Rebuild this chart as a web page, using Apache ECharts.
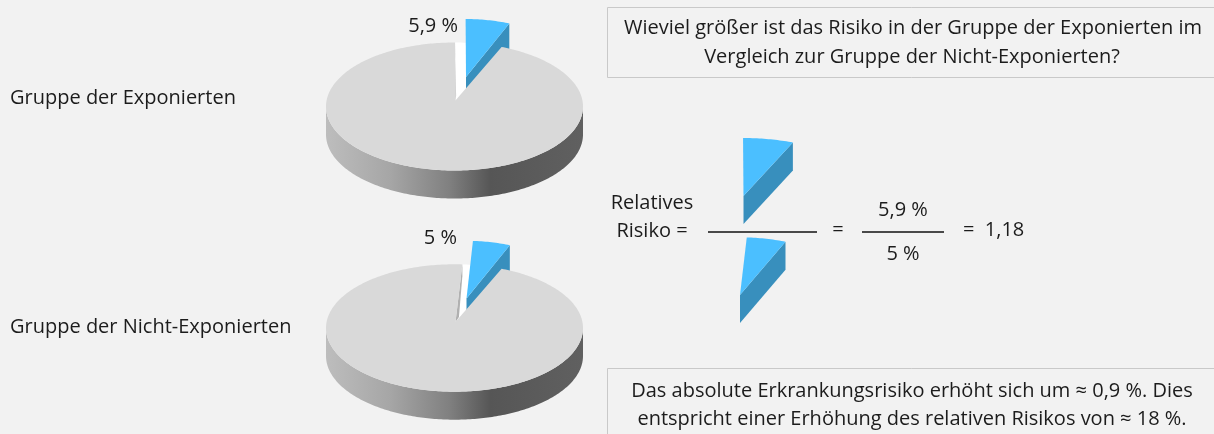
<!DOCTYPE html>
<html><head><meta charset="utf-8">
<style>html,body{margin:0;padding:0;background:#f2f2f2}#c{width:1214px;height:434px}</style>
<script src="https://cdn.jsdelivr.net/npm/echarts@6/dist/echarts.min.js"></script></head>
<body><div id="c"></div>
<script>
const groupNames = ['Gruppe der Exponierten', 'Gruppe der Nicht-Exponierten'];
const riskPercent = [5.9, 5];
const riskLabels = ['5,9 %', '5 %'];
const questionLines = ['Wieviel größer ist das Risiko in der Gruppe der Exponierten im', 'Vergleich zur Gruppe der Nicht-Exponierten?'];
const answerLines = ['Das absolute Erkrankungsrisiko erhöht sich um ≈ 0,9 %. Dies', 'entspricht einer Erhöhung des relativen Risikos von ≈ 18 %.'];
const formulaLeft = ['Relatives', 'Risiko ='];
const formulaResult = '=  1,18';

const FONT = '"Open Sans", sans-serif';
const FS = 20;
const INK = '#1c1c1c';
const pies = [
  {cx: 454.5, cy: 106.5, rx: 128.5, ry: 64, depth: 28, ox: 10.5, oy: -23.5, labelX: 458, labelY: 26, textY: 98},
  {cx: 454.5, cy: 328, rx: 128.5, ry: 63.7, depth: 28, ox: 11, oy: -23.5, labelX: 457, labelY: 238, textY: 327}
];
const formulaPlace = [{dx: 277.5, dy: 119, sx: 1.14}, {dx: 273.5, dy: -3.5, sx: 1.05}];
const END_ANGLE = 21.5;
const WEDGE_SHRINK = 0.94;

function rim(p, t, dy) {
  const r = t * Math.PI / 180;
  return [p.cx + p.rx * Math.sin(r), p.cy - p.ry * Math.cos(r) + (dy || 0)];
}
function arc(p, a, b, dy) {
  const out = [];
  const n = Math.max(2, Math.ceil(Math.abs(b - a)));
  for (let i = 0; i <= n; i++) out.push(rim(p, a + (b - a) * i / n, dy));
  return out;
}
function poly(points, style) {
  return {type: 'polygon', shape: {points}, style};
}
function wedge(p, pct, tf) {
  const a = END_ANGLE - pct * 3.6, b = END_ANGLE;
  const apex = [p.cx + 1 + p.ox, p.cy - 6 + p.oy];
  const top = arc(p, a, b).map(q => [apex[0] + (q[0] + p.ox - apex[0]) * WEDGE_SHRINK, q[1] + p.oy]);
  const f = tf || (q => q);
  const p2 = top[top.length - 1];
  return [
    poly([apex, p2, [p2[0], p2[1] + p.depth], [apex[0], apex[1] + p.depth]].map(f), {fill: '#388fbd'}),
    poly([apex].concat(top).map(f), {fill: '#4bbfff'})
  ];
}
function renderPie(params, api) {
  const i = params.dataIndex;
  const p = pies[i];
  const pct = api.value(1);
  const a = END_ANGLE - pct * 3.6, b = END_ANGLE;
  const apex = [p.cx + 1, p.cy - 6];
  const wallGrad = new echarts.graphic.LinearGradient(0, 0, 1, 0, [
    {offset: 0, color: '#bdbdbd'}, {offset: 0.25, color: '#a6a6a6'},
    {offset: 0.48, color: '#808080'}, {offset: 0.64, color: '#565656'}, {offset: 1, color: '#606060'}
  ]);
  const children = [];
  // front wall
  children.push(poly(arc(p, 270, 90).concat(arc(p, 90, 270, p.depth)), {fill: wallGrad}));
  // hole of the cut slice
  children.push(poly([apex].concat(arc(p, a, b)), {fill: '#ffffff'}));
  // exploded slice
  wedge(p, pct).forEach(c => children.push(c));
  // inner cut wall of the grey part
  const P = rim(p, a);
  const w = Math.max(0.6, (P[0] - apex[0]) * 0.5);
  children.push(poly([P, apex, [apex[0] + w, apex[1] - 5], [P[0], P[1] + 12]], {fill: '#b0b0b0'}));
  // grey top
  children.push(poly([apex].concat(arc(p, b, a + 360)), {fill: '#d9d9d9'}));
  return {type: 'group', children};
}
function renderFormulaWedge(params, api) {
  const i = params.dataIndex;
  const p = pies[i], m = formulaPlace[i];
  const pivotX = p.cx + 1 + p.ox;
  const tf = q => [pivotX + (q[0] - pivotX) * m.sx + m.dx, q[1] + m.dy];
  return {type: 'group', children: wedge(p, api.value(1), tf)};
}
function txt(text, x, y, align) {
  return {type: 'text', x, y, silent: true, style: {text, fill: INK, font: FS + 'px ' + FONT, textAlign: align || 'center', textVerticalAlign: 'middle'}};
}
function box(y, h) {
  return {type: 'rect', shape: {x: 607.5, y: y + 0.5, width: 640, height: h}, silent: true, z: -1,
    style: {fill: '#f2f2f2', stroke: '#c9c9c9', lineWidth: 1}};
}
function rule(x1, x2, y) {
  return {type: 'line', shape: {x1, y1: y, x2, y2: y}, silent: true, style: {stroke: '#111', lineWidth: 1.5}};
}
const elements = [
  box(7, 70), box(368, 100),
  txt(groupNames[0], 10, pies[0].textY, 'left'), txt(groupNames[1], 10, pies[1].textY, 'left'),
  txt(riskLabels[0], pies[0].labelX, pies[0].labelY, 'right'), txt(riskLabels[1], pies[1].labelX, pies[1].labelY, 'right'),
  txt(questionLines[0], 913, 28), txt(questionLines[1], 912, 57),
  txt(answerLines[0], 912, 391), txt(answerLines[1], 912, 419),
  txt(formulaLeft[0], 652, 203), txt(formulaLeft[1], 652, 231),
  rule(708, 817, 232), rule(862, 944, 232),
  txt('=', 838, 230),
  txt(riskLabels[0], 903, 210), txt(riskLabels[1], 903, 254),
  txt(formulaResult, 963, 230, 'left')
];
const seriesData = riskPercent.map((v, i) => [i, v]);
const chart = echarts.init(document.getElementById('c'), null, {renderer: 'canvas'});
chart.setOption({
  animation: false,
  backgroundColor: '#f2f2f2',
  graphic: {elements},
  series: [
    {type: 'custom', coordinateSystem: 'none', renderItem: renderPie, data: seriesData, silent: true},
    {type: 'custom', coordinateSystem: 'none', renderItem: renderFormulaWedge, data: seriesData, silent: true}
  ]
});
</script></body></html>
